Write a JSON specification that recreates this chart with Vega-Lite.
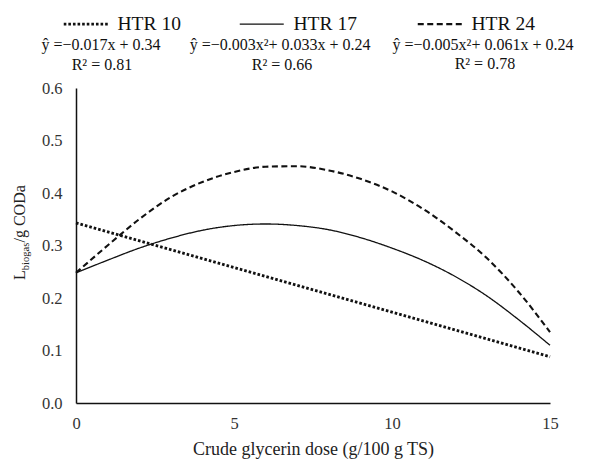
{
  "$schema": "https://vega.github.io/schema/vega-lite/v6.json",
  "width": 474,
  "height": 315,
  "autosize": {"type": "none"},
  "padding": {"left": 76, "top": 88, "right": 40, "bottom": 56},
  "background": "white",
  "config": {"view": {"stroke": null}, "font": "Liberation Serif"},
  "datasets": {
    "curves": [
      {"series": "HTR 10", "dose": 0, "yield": 0.343},
      {"series": "HTR 10", "dose": 15, "yield": 0.088},
      {"series": "HTR 17", "dose": 0, "yield": 0.248},
      {"series": "HTR 17", "dose": 1, "yield": 0.272},
      {"series": "HTR 17", "dose": 2, "yield": 0.295},
      {"series": "HTR 17", "dose": 3, "yield": 0.314},
      {"series": "HTR 17", "dose": 4, "yield": 0.329},
      {"series": "HTR 17", "dose": 5, "yield": 0.338},
      {"series": "HTR 17", "dose": 6, "yield": 0.341},
      {"series": "HTR 17", "dose": 7, "yield": 0.338},
      {"series": "HTR 17", "dose": 8, "yield": 0.330},
      {"series": "HTR 17", "dose": 9, "yield": 0.315},
      {"series": "HTR 17", "dose": 10, "yield": 0.295},
      {"series": "HTR 17", "dose": 11, "yield": 0.271},
      {"series": "HTR 17", "dose": 12, "yield": 0.241},
      {"series": "HTR 17", "dose": 13, "yield": 0.204},
      {"series": "HTR 17", "dose": 14, "yield": 0.159},
      {"series": "HTR 17", "dose": 15, "yield": 0.110},
      {"series": "HTR 24", "dose": 0, "yield": 0.248},
      {"series": "HTR 24", "dose": 1, "yield": 0.300},
      {"series": "HTR 24", "dose": 2, "yield": 0.350},
      {"series": "HTR 24", "dose": 3, "yield": 0.392},
      {"series": "HTR 24", "dose": 4, "yield": 0.421},
      {"series": "HTR 24", "dose": 5, "yield": 0.440},
      {"series": "HTR 24", "dose": 6, "yield": 0.450},
      {"series": "HTR 24", "dose": 7, "yield": 0.451},
      {"series": "HTR 24", "dose": 8, "yield": 0.443},
      {"series": "HTR 24", "dose": 9, "yield": 0.427},
      {"series": "HTR 24", "dose": 10, "yield": 0.403},
      {"series": "HTR 24", "dose": 11, "yield": 0.369},
      {"series": "HTR 24", "dose": 12, "yield": 0.326},
      {"series": "HTR 24", "dose": 13, "yield": 0.276},
      {"series": "HTR 24", "dose": 14, "yield": 0.212},
      {"series": "HTR 24", "dose": 15, "yield": 0.135}
    ]
  },
  "layer": [
    {
      "data": {"name": "curves"},
      "mark": {"type": "line", "interpolate": "monotone", "color": "#111"},
      "encoding": {
        "x": {
          "field": "dose", "type": "quantitative",
          "scale": {"domain": [0, 15], "nice": false, "zero": false},
          "axis": {
            "title": "Crude glycerin dose (g/100 g TS)",
            "values": [0, 5, 10, 15],
            "ticks": false, "grid": false, "labelFlush": false,
            "domainColor": "#111", "domainWidth": 1.5,
            "labelFont": "Liberation Serif", "labelFontSize": 16.5, "labelColor": "#333", "labelPadding": 12,
            "titleFont": "Liberation Serif", "titleFontSize": 18, "titleFontWeight": "normal", "titleColor": "#222", "titlePadding": 9
          }
        },
        "y": {
          "field": "yield", "type": "quantitative",
          "scale": {"domain": [0, 0.6], "nice": false},
          "axis": {
            "title": null,
            "values": [0, 0.1, 0.2, 0.3, 0.4, 0.5, 0.6],
            "format": ".1f",
            "ticks": false, "grid": false, "labelFlush": false,
            "domainColor": "#111", "domainWidth": 1.5,
            "labelFont": "Liberation Serif", "labelFontSize": 16.5, "labelColor": "#333", "labelPadding": 14
          }
        },
        "strokeDash": {
          "field": "series", "type": "nominal",
          "scale": {"domain": ["HTR 10", "HTR 17", "HTR 24"], "range": [[2.6, 2], [1, 0], [6, 3.5]]},
          "legend": {
            "title": null, "orient": "none", "legendX": 0, "legendY": -74,
            "direction": "horizontal", "symbolType": "stroke", "symbolSize": 1936,
            "symbolStrokeColor": "#111", "labelFont": "Liberation Serif", "labelFontSize": 19.5,
            "labelColor": "#111", "labelOffset": 22, "columnPadding": 56, "padding": 0,
            "encode": {"symbols": {"update": {"strokeWidth": {"signal": "datum.value === 'HTR 10' ? 2.8 : datum.value === 'HTR 24' ? 2.2 : 1.3"}}}}
          }
        },
        "strokeWidth": {
          "condition": [
            {"test": "datum.series === 'HTR 10'", "value": 2.8},
            {"test": "datum.series === 'HTR 24'", "value": 2.1}
          ],
          "value": 1.3
        }
      }
    },
    {
      "data": {"values": [{"t": "ŷ =−0.017x + 0.34"}]},
      "mark": {"type": "text", "fontSize": 16, "color": "#111", "align": "center", "baseline": "middle"},
      "encoding": {"x": {"datum": 0.79, "type": "quantitative"}, "y": {"datum": 0.682, "type": "quantitative"}, "text": {"field": "t"}}
    },
    {
      "data": {"values": [{"t": "R² = 0.81"}]},
      "mark": {"type": "text", "fontSize": 16, "color": "#111", "align": "center", "baseline": "middle"},
      "encoding": {"x": {"datum": 0.82, "type": "quantitative"}, "y": {"datum": 0.644, "type": "quantitative"}, "text": {"field": "t"}}
    },
    {
      "data": {"values": [{"t": "ŷ =−0.003x²+ 0.033x + 0.24"}]},
      "mark": {"type": "text", "fontSize": 16, "color": "#111", "align": "center", "baseline": "middle"},
      "encoding": {"x": {"datum": 6.46, "type": "quantitative"}, "y": {"datum": 0.682, "type": "quantitative"}, "text": {"field": "t"}}
    },
    {
      "data": {"values": [{"t": "R² = 0.66"}]},
      "mark": {"type": "text", "fontSize": 16, "color": "#111", "align": "center", "baseline": "middle"},
      "encoding": {"x": {"datum": 6.52, "type": "quantitative"}, "y": {"datum": 0.644, "type": "quantitative"}, "text": {"field": "t"}}
    },
    {
      "data": {"values": [{"t": "ŷ =−0.005x²+ 0.061x + 0.24"}]},
      "mark": {"type": "text", "fontSize": 16, "color": "#111", "align": "center", "baseline": "middle"},
      "encoding": {"x": {"datum": 12.88, "type": "quantitative"}, "y": {"datum": 0.682, "type": "quantitative"}, "text": {"field": "t"}}
    },
    {
      "data": {"values": [{"t": "R² = 0.78"}]},
      "mark": {"type": "text", "fontSize": 16, "color": "#111", "align": "center", "baseline": "middle"},
      "encoding": {"x": {"datum": 12.94, "type": "quantitative"}, "y": {"datum": 0.646, "type": "quantitative"}, "text": {"field": "t"}}
    },
    {
      "data": {"values": [{"t": "L"}]},
      "mark": {"type": "text", "fontSize": 16, "color": "#222", "angle": 270, "align": "left", "baseline": "alphabetic"},
      "encoding": {"x": {"datum": -1.614, "type": "quantitative"}, "y": {"datum": 0.2343, "type": "quantitative"}, "text": {"field": "t"}}
    },
    {
      "data": {"values": [{"t": "biogas"}]},
      "mark": {"type": "text", "fontSize": 10.5, "color": "#222", "angle": 270, "align": "left", "baseline": "alphabetic"},
      "encoding": {"x": {"datum": -1.503, "type": "quantitative"}, "y": {"datum": 0.253, "type": "quantitative"}, "text": {"field": "t"}}
    },
    {
      "data": {"values": [{"t": "/g CODa"}]},
      "mark": {"type": "text", "fontSize": 16, "color": "#222", "angle": 270, "align": "left", "baseline": "alphabetic"},
      "encoding": {"x": {"datum": -1.614, "type": "quantitative"}, "y": {"datum": 0.3057, "type": "quantitative"}, "text": {"field": "t"}}
    }
  ]
}
